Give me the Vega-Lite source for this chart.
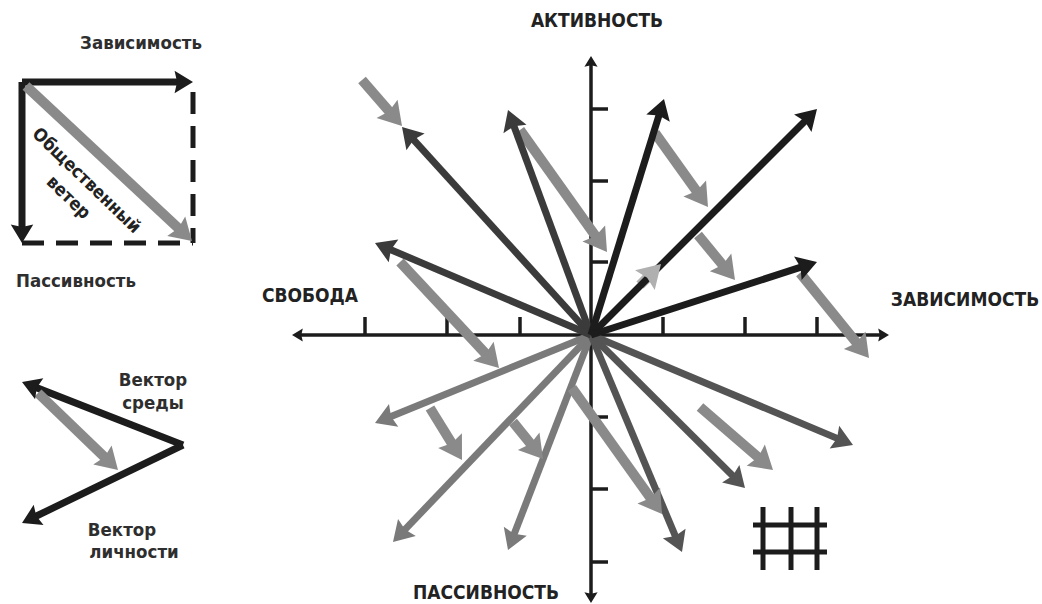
{
  "$schema": "https://vega.github.io/schema/vega-lite/v6.json",
  "width": 1042,
  "height": 604,
  "padding": 0,
  "autosize": {"type": "fit", "contains": "padding"},
  "background": "white",
  "config": {"view": {"stroke": null}},
  "datasets": {
    "arrows": [
      {"x1": 591, "y1": 335, "x2": 292, "y2": 335, "g": "axis", "c": "black"},
      {"x1": 591, "y1": 335, "x2": 889, "y2": 335, "g": "axis", "c": "black"},
      {"x1": 591, "y1": 335, "x2": 591, "y2": 56, "g": "axis", "c": "black"},
      {"x1": 591, "y1": 335, "x2": 591, "y2": 603, "g": "axis", "c": "black"},
      {"x1": 640, "y1": 285, "x2": 661, "y2": 264, "g": "thick", "c": "light"},
      {"x1": 591, "y1": 335, "x2": 375, "y2": 423, "g": "thin", "c": "low"},
      {"x1": 591, "y1": 335, "x2": 393, "y2": 542, "g": "thin", "c": "low"},
      {"x1": 591, "y1": 335, "x2": 508, "y2": 550, "g": "thin", "c": "low"},
      {"x1": 591, "y1": 335, "x2": 682, "y2": 552, "g": "thin", "c": "mid"},
      {"x1": 591, "y1": 335, "x2": 745, "y2": 488, "g": "thin", "c": "mid"},
      {"x1": 591, "y1": 335, "x2": 853, "y2": 445, "g": "thin", "c": "mid"},
      {"x1": 362, "y1": 80, "x2": 402, "y2": 126, "g": "thick", "c": "env"},
      {"x1": 520, "y1": 130, "x2": 607, "y2": 252, "g": "thick", "c": "env"},
      {"x1": 400, "y1": 262, "x2": 499, "y2": 368, "g": "thick", "c": "env"},
      {"x1": 655, "y1": 133, "x2": 708, "y2": 207, "g": "thick", "c": "env"},
      {"x1": 698, "y1": 235, "x2": 735, "y2": 280, "g": "thick", "c": "env"},
      {"x1": 800, "y1": 273, "x2": 869, "y2": 358, "g": "thick", "c": "env"},
      {"x1": 430, "y1": 408, "x2": 462, "y2": 460, "g": "thick", "c": "env"},
      {"x1": 513, "y1": 422, "x2": 543, "y2": 459, "g": "thick", "c": "env"},
      {"x1": 572, "y1": 388, "x2": 662, "y2": 514, "g": "thick", "c": "env"},
      {"x1": 700, "y1": 407, "x2": 773, "y2": 470, "g": "thick", "c": "env"},
      {"x1": 591, "y1": 335, "x2": 402, "y2": 127, "g": "thin", "c": "dark"},
      {"x1": 591, "y1": 335, "x2": 508, "y2": 110, "g": "thin", "c": "dark"},
      {"x1": 591, "y1": 335, "x2": 375, "y2": 243, "g": "thin", "c": "dark"},
      {"x1": 591, "y1": 335, "x2": 664, "y2": 99, "g": "thin", "c": "black"},
      {"x1": 591, "y1": 335, "x2": 817, "y2": 109, "g": "thin", "c": "black"},
      {"x1": 591, "y1": 335, "x2": 817, "y2": 262, "g": "thin", "c": "black"},
      {"x1": 22, "y1": 82, "x2": 193, "y2": 82, "g": "leg", "c": "black"},
      {"x1": 22, "y1": 82, "x2": 22, "y2": 243, "g": "leg", "c": "black"},
      {"x1": 26, "y1": 86, "x2": 192, "y2": 241, "g": "legenv", "c": "env"},
      {"x1": 183, "y1": 445, "x2": 22, "y2": 382, "g": "leg", "c": "black"},
      {"x1": 183, "y1": 445, "x2": 22, "y2": 523, "g": "leg", "c": "black"},
      {"x1": 38, "y1": 393, "x2": 118, "y2": 470, "g": "legenv", "c": "env"}
    ],
    "ticks": [
      {"x1": 365, "y1": 317, "x2": 365, "y2": 335},
      {"x1": 447, "y1": 317, "x2": 447, "y2": 335},
      {"x1": 520, "y1": 317, "x2": 520, "y2": 335},
      {"x1": 663, "y1": 317, "x2": 663, "y2": 335},
      {"x1": 745, "y1": 317, "x2": 745, "y2": 335},
      {"x1": 817, "y1": 317, "x2": 817, "y2": 335},
      {"x1": 591, "y1": 109, "x2": 608, "y2": 109},
      {"x1": 591, "y1": 181, "x2": 608, "y2": 181},
      {"x1": 591, "y1": 262, "x2": 608, "y2": 262},
      {"x1": 591, "y1": 417, "x2": 608, "y2": 417},
      {"x1": 591, "y1": 489, "x2": 608, "y2": 489},
      {"x1": 591, "y1": 562, "x2": 608, "y2": 562}
    ],
    "grid": [
      {"x1": 763, "y1": 507, "x2": 763, "y2": 570},
      {"x1": 791, "y1": 507, "x2": 791, "y2": 570},
      {"x1": 817, "y1": 507, "x2": 817, "y2": 570},
      {"x1": 753, "y1": 525, "x2": 827, "y2": 525},
      {"x1": 753, "y1": 552, "x2": 827, "y2": 552}
    ],
    "dashes": [
      {"x1": 193, "y1": 92, "x2": 193, "y2": 243},
      {"x1": 22, "y1": 243, "x2": 193, "y2": 243}
    ],
    "axislabels": [
      {"t": "АКТИВНОСТЬ", "x": 597, "y": 21},
      {"t": "СВОБОДА", "x": 310, "y": 296},
      {"t": "ЗАВИСИМОСТЬ", "x": 965, "y": 300},
      {"t": "ПАССИВНОСТЬ", "x": 486, "y": 593}
    ],
    "leglabels": [
      {"t": "Зависимость", "x": 141, "y": 43},
      {"t": "Пассивность", "x": 76, "y": 281},
      {"t": "Вектор", "x": 153, "y": 380},
      {"t": "среды", "x": 153, "y": 403},
      {"t": "Вектор", "x": 122, "y": 530},
      {"t": "личности", "x": 134, "y": 552}
    ],
    "rotlabels": [
      {"t": "Общественный", "x": 86, "y": 181},
      {"t": "ветер", "x": 68, "y": 198}
    ]
  },
  "layer": [
    {
      "data": {"name": "ticks"},
      "mark": {"type": "rule", "color": "#1c1c1c", "strokeWidth": 3.5},
      "encoding": {
        "x": {"field": "x1", "type": "quantitative", "scale": {"domain": [0, 1042], "nice": false, "zero": false}, "axis": null},
        "y": {"field": "y1", "type": "quantitative", "scale": {"domain": [0, 604], "nice": false, "zero": false, "reverse": true}, "axis": null},
        "x2": {"field": "x2"},
        "y2": {"field": "y2"}
      }
    },
    {
      "data": {"name": "grid"},
      "mark": {"type": "rule", "color": "#1c1c1c", "strokeWidth": 5},
      "encoding": {
        "x": {"field": "x1", "type": "quantitative", "scale": {"domain": [0, 1042], "nice": false, "zero": false}, "axis": null},
        "y": {"field": "y1", "type": "quantitative", "scale": {"domain": [0, 604], "nice": false, "zero": false, "reverse": true}, "axis": null},
        "x2": {"field": "x2"},
        "y2": {"field": "y2"}
      }
    },
    {
      "data": {"name": "dashes"},
      "mark": {"type": "rule", "color": "#1c1c1c", "strokeWidth": 5, "strokeDash": [22, 12]},
      "encoding": {
        "x": {"field": "x1", "type": "quantitative", "scale": {"domain": [0, 1042], "nice": false, "zero": false}, "axis": null},
        "y": {"field": "y1", "type": "quantitative", "scale": {"domain": [0, 604], "nice": false, "zero": false, "reverse": true}, "axis": null},
        "x2": {"field": "x2"},
        "y2": {"field": "y2"}
      }
    },
    {
      "data": {"name": "arrows"},
      "transform": [
        {"calculate": "datum.x2 - datum.x1", "as": "dx"},
        {"calculate": "datum.y2 - datum.y1", "as": "dy"},
        {"calculate": "sqrt(datum.dx * datum.dx + datum.dy * datum.dy)", "as": "len"},
        {"calculate": "datum.g == 'thick' ? 15 : datum.g == 'legenv' ? 14 : datum.g == 'axis' ? 6 : 12", "as": "sh"},
        {"calculate": "datum.x2 - datum.dx / datum.len * datum.sh", "as": "xe"},
        {"calculate": "datum.y2 - datum.dy / datum.len * datum.sh", "as": "ye"}
      ],
      "mark": {"type": "rule", "strokeCap": "butt"},
      "encoding": {
        "x": {"field": "x1", "type": "quantitative", "scale": {"domain": [0, 1042], "nice": false, "zero": false}, "axis": null},
        "y": {"field": "y1", "type": "quantitative", "scale": {"domain": [0, 604], "nice": false, "zero": false, "reverse": true}, "axis": null},
        "x2": {"field": "xe"},
        "y2": {"field": "ye"},
        "color": {"field": "c", "type": "nominal", "scale": {"domain": ["dark", "black", "mid", "low", "env", "light"], "range": ["#3b3b3b", "#1c1c1c", "#545454", "#7a7a7a", "#8a8a8a", "#b0b0b0"]}, "legend": null},
        "size": {"field": "g", "type": "ordinal", "scale": {"type": "ordinal", "domain": ["axis", "thin", "thick", "leg", "legenv"], "range": [3.5, 7, 10, 7, 10]}, "legend": null}
      }
    },
    {
      "data": {"name": "arrows"},
      "transform": [
        {"calculate": "atan2(datum.x2 - datum.x1, -(datum.y2 - datum.y1)) * 180 / PI", "as": "ang"}
      ],
      "mark": {"type": "point", "filled": true, "opacity": 1, "strokeWidth": 0, "shape": "M0,0 L-1.1,1.8 L0,1.55 L1.1,1.8 Z"},
      "encoding": {
        "x": {"field": "x2", "type": "quantitative", "scale": {"domain": [0, 1042], "nice": false, "zero": false}, "axis": null},
        "y": {"field": "y2", "type": "quantitative", "scale": {"domain": [0, 604], "nice": false, "zero": false, "reverse": true}, "axis": null},
        "angle": {"field": "ang", "type": "quantitative", "scale": null},
        "color": {"field": "c", "type": "nominal", "scale": {"domain": ["dark", "black", "mid", "low", "env", "light"], "range": ["#3b3b3b", "#1c1c1c", "#545454", "#7a7a7a", "#8a8a8a", "#b0b0b0"]}, "legend": null},
        "size": {"field": "g", "type": "ordinal", "scale": {"type": "ordinal", "domain": ["axis", "thin", "thick", "leg", "legenv"], "range": [144, 500, 640, 420, 576]}, "legend": null}
      }
    },
    {
      "data": {"name": "axislabels"},
      "mark": {"type": "text", "font": "DejaVu Sans Condensed, Liberation Sans Narrow, Roboto, sans-serif", "fontWeight": "bold", "fontSize": 19, "color": "#222222", "align": "center", "baseline": "middle"},
      "encoding": {
        "x": {"field": "x", "type": "quantitative", "scale": {"domain": [0, 1042], "nice": false, "zero": false}, "axis": null},
        "y": {"field": "y", "type": "quantitative", "scale": {"domain": [0, 604], "nice": false, "zero": false, "reverse": true}, "axis": null},
        "text": {"field": "t"}
      }
    },
    {
      "data": {"name": "leglabels"},
      "mark": {"type": "text", "font": "DejaVu Sans Condensed, Liberation Sans Narrow, Roboto, sans-serif", "fontWeight": "bold", "fontSize": 18.5, "color": "#2e2e2e", "align": "center", "baseline": "middle"},
      "encoding": {
        "x": {"field": "x", "type": "quantitative", "scale": {"domain": [0, 1042], "nice": false, "zero": false}, "axis": null},
        "y": {"field": "y", "type": "quantitative", "scale": {"domain": [0, 604], "nice": false, "zero": false, "reverse": true}, "axis": null},
        "text": {"field": "t"}
      }
    },
    {
      "data": {"name": "rotlabels"},
      "mark": {"type": "text", "font": "DejaVu Sans Condensed, Liberation Sans Narrow, Roboto, sans-serif", "fontWeight": "bold", "fontSize": 18, "color": "#222222", "align": "center", "baseline": "middle", "angle": 44},
      "encoding": {
        "x": {"field": "x", "type": "quantitative", "scale": {"domain": [0, 1042], "nice": false, "zero": false}, "axis": null},
        "y": {"field": "y", "type": "quantitative", "scale": {"domain": [0, 604], "nice": false, "zero": false, "reverse": true}, "axis": null},
        "text": {"field": "t"}
      }
    }
  ],
  "resolve": {"scale": {"size": "independent"}}
}
